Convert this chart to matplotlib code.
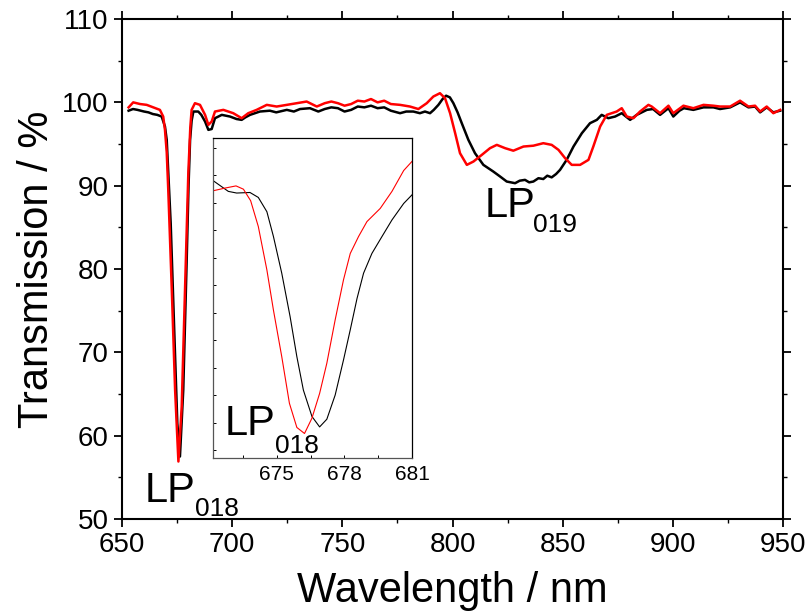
import numpy as np
import matplotlib.pyplot as plt
from matplotlib.ticker import MultipleLocator, NullFormatter

plt.rcParams['font.family'] = ['Liberation Sans', 'DejaVu Sans']

# main spectra (wavelength nm, transmission %)
wl_black = [653, 655, 657, 660, 662, 664, 666, 668, 669.5, 670.3, 671.2, 672.1, 673.6, 675.1,
            676.3, 677.8, 679.4, 680.2, 680.9, 681.6, 682.4, 684.6, 686, 687.7, 689.2, 690.7,
            692.2, 695.3, 699.0, 702, 704.3, 706, 708.1, 712.6, 717.1, 720, 724.8, 728, 730.8,
            735.3, 739.1, 742, 745, 748, 751, 754, 757, 760, 763, 766, 769, 772, 776.2, 779,
            782.2, 785.2, 787.5, 789.8, 791.5, 793.6, 795.5, 797.1, 798.8, 800.4, 802.3, 804.2,
            807.2, 810.2, 814.0, 818.5, 821.6, 824.6, 828.4, 830.5, 832.9, 834.8, 836.7, 839,
            841.2, 843, 845.0, 847, 848.8, 851.8, 854.9, 858.7, 862.4, 865.5, 867.7, 870.7,
            873.8, 876.8, 880.6, 883.6, 888.2, 891, 894.2, 898, 900.2, 903, 905, 909.3, 913.9,
            918.4, 921.4, 926, 930.5, 934.3, 937.3, 939.6, 942.6, 945.6, 948.7]
tr_black = [99.0, 99.2, 99.1, 98.9, 98.8, 98.6, 98.5, 98.3, 97.1, 95.5, 90.5, 85.5, 73.5, 61.5,
            57.5, 65.5, 81.5, 90.0, 95.5, 97.8, 98.9, 98.9, 98.5, 97.7, 96.7, 96.8,
            98.1, 98.5, 98.3, 98.0, 97.9, 98.2, 98.5, 98.9, 99.0, 98.8, 99.1, 98.9, 99.2,
            99.3, 98.9, 99.2, 99.4, 99.3, 98.9, 99.1, 99.5, 99.4, 99.6, 99.3, 99.4, 99.0, 98.7, 98.9,
            98.9, 98.7, 98.9, 98.7, 99.1, 99.7, 100.4, 100.8, 100.6, 99.9, 98.8, 97.5,
            95.5, 93.9, 92.5, 91.7, 91.1, 90.5, 90.3, 90.6, 90.7, 90.4, 90.5, 90.9,
            90.8, 91.2, 91.0, 91.4, 91.9, 93.1, 94.7, 96.3, 97.5, 97.9, 98.5, 98.1,
            98.3, 98.7, 97.9, 98.5, 99.1, 99.2, 98.5, 99.3, 98.3, 99.0, 99.3, 99.1, 99.4,
            99.4, 99.2, 99.4, 100.0, 99.4, 99.5, 98.8, 99.4, 98.8, 99.0]

wl_red = [653, 655.1, 658.2, 661.2, 664.2, 667.2, 668.7, 669.5, 670.3, 671.0, 672.6, 674.1,
          675.6, 677.1, 678.6, 680.1, 681.0, 681.6, 683.1, 685.4, 687.7, 689.2, 690.7, 692.2,
          696.0, 700.5, 704.3, 707.3, 711.1, 715.7, 720.2, 724.8, 729.3, 733.8, 738.4, 742,
          745, 748, 751, 754, 757, 760, 763, 766, 769, 772, 776.2, 780.7, 784.5, 788.3, 791.3,
          794.3, 796.6, 798.9, 801.2, 803.4, 806.5, 809.5, 813.3, 817.0, 820.1, 823.9, 827.6,
          832.2, 836.7, 841.2, 845.0, 848.1, 851.1, 854.1, 857.9, 861.7, 863.9, 867.0, 870.0,
          874.5, 876.8, 879.1, 882.1, 885.1, 888.9, 890.4, 894.2, 898.0, 900.2, 904.8, 909.3,
          913.9, 918.4, 921.4, 926.0, 930.5, 934.3, 937.3, 939.6, 942.6, 945.6, 948.7]
tr_red = [99.4, 100.0, 99.8, 99.7, 99.4, 99.1, 98.3, 96.7, 94.0, 89.5, 77.5, 65.5,
          56.9, 63.5, 77.5, 91.5, 97.0, 99.1, 99.9, 99.7, 98.5, 97.3, 97.7, 98.9,
          99.1, 98.7, 98.1, 98.7, 99.1, 99.7, 99.5, 99.7, 99.9, 100.1, 99.5, 99.9,
          100.1, 99.9, 99.6, 99.8, 100.2, 100.1, 100.4, 100.0, 100.2, 99.8, 99.7, 99.5, 99.2, 99.9, 100.7,
          101.1, 100.5, 98.7, 96.3, 93.9, 92.5, 92.9, 93.7, 94.5, 94.9, 94.5, 94.2,
          94.7, 94.8, 95.1, 94.9, 94.3, 93.3, 92.5, 92.5, 93.1, 94.7, 97.1, 98.5,
          98.9, 99.3, 98.3, 98.1, 98.9, 99.7, 99.5, 98.7, 99.6, 98.7, 99.6, 99.3,
          99.7, 99.6, 99.5, 99.5, 100.2, 99.5, 99.6, 98.9, 99.5, 98.7, 99.1]

# inset: zoom on the LP018 dip (arbitrary units, no labels on y)
wl_in_black = [672.16, 672.85, 673.22, 673.81, 674.18, 674.56, 674.85, 675.22, 675.59, 675.89,
               676.18, 676.56, 676.90, 677.22, 677.59, 677.96, 678.26, 678.56, 678.85, 679.22,
               679.67, 680.11, 680.63, 681.03]
tr_in_black = [104.1, 102.1, 101.8, 101.9, 101.0, 98.4, 93.9, 87.2, 79.3, 72.0,
               65.9, 61.1, 59.2, 60.6, 65.0, 71.4, 76.9, 82.6, 87.2, 90.8,
               93.9, 96.9, 99.9, 101.6]
wl_in_red = [672.16, 672.70, 673.19, 673.52, 673.84, 674.18, 674.56, 674.85, 675.22, 675.56,
             675.89, 676.23, 676.56, 676.90, 677.22, 677.59, 677.96, 678.26, 678.63, 679.00,
             679.59, 680.11, 680.63, 681.03]
tr_in_red = [102.2, 102.7, 103.1, 102.5, 100.4, 95.7, 87.8, 80.5, 72.0, 63.5,
             59.1, 58.0, 60.8, 65.3, 70.8, 78.7, 86.0, 90.8, 93.9, 96.6,
             99.0, 102.1, 105.9, 107.7]

fig = plt.figure(figsize=(8.09, 6.14), dpi=100)
ax = fig.add_axes([0.1508, 0.1547, 0.8171, 0.8143])

ax.plot(wl_black, tr_black, color='k', lw=1.8)
ax.plot(wl_red, tr_red, color='#ff0000', lw=1.8)

ax.set_xlim(650, 950)
ax.set_ylim(50, 110)
ax.xaxis.set_major_locator(MultipleLocator(50))
ax.xaxis.set_minor_locator(MultipleLocator(25))
ax.yaxis.set_major_locator(MultipleLocator(10))
ax.yaxis.set_minor_locator(MultipleLocator(5))
ax.tick_params(which='major', direction='out', length=6, width=1.3, labelsize=20)
ax.tick_params(which='minor', direction='out', length=3, width=1.0)
ax.tick_params(which='both', top=True, right=True, labeltop=False, labelright=False)
for s in ax.spines.values():
    s.set_linewidth(1.5)

ax.set_xlabel("Wavelength / nm", fontsize=30, labelpad=9)
ax.set_ylabel("Transmission / %", fontsize=30, labelpad=4)

# mode labels
ax.text(660.3, 52.0, "LP", fontsize=30, ha='left', va='baseline')
ax.text(683.3, 50.4, "018", fontsize=19, ha='left', va='baseline')
ax.text(814.5, 86.3, "LP", fontsize=30, ha='left', va='baseline')
ax.text(836.5, 84.5, "019", fontsize=19, ha='left', va='baseline')

# inset
axi = fig.add_axes([0.2633, 0.2541, 0.2460, 0.5211])
axi.plot(wl_in_black, tr_in_black, color='k', lw=0.8)
axi.plot(wl_in_red, tr_in_red, color='#ff0000', lw=0.8)
axi.set_xlim(672.17, 681.0)
axi.set_ylim(53.54, 111.82)
axi.set_xticks([675, 678, 681])
axi.xaxis.set_minor_locator(MultipleLocator(1.5))
axi.yaxis.set_major_locator(MultipleLocator(5))
axi.yaxis.set_major_formatter(NullFormatter())
axi.tick_params(which='both', direction='in', length=2.5, width=0.7, labelsize=15, pad=5)
axi.tick_params(axis='y', left=True)
axi.spines['left'].set_color('#555555')
axi.spines['bottom'].set_color('#555555')
for s in axi.spines.values():
    s.set_linewidth(0.9)
axi.text(672.7, 57.8, "LP", fontsize=30, ha='left', va='baseline')
axi.text(674.9, 54.4, "018", fontsize=19, ha='left', va='baseline')

plt.savefig("out.png", dpi=100)
